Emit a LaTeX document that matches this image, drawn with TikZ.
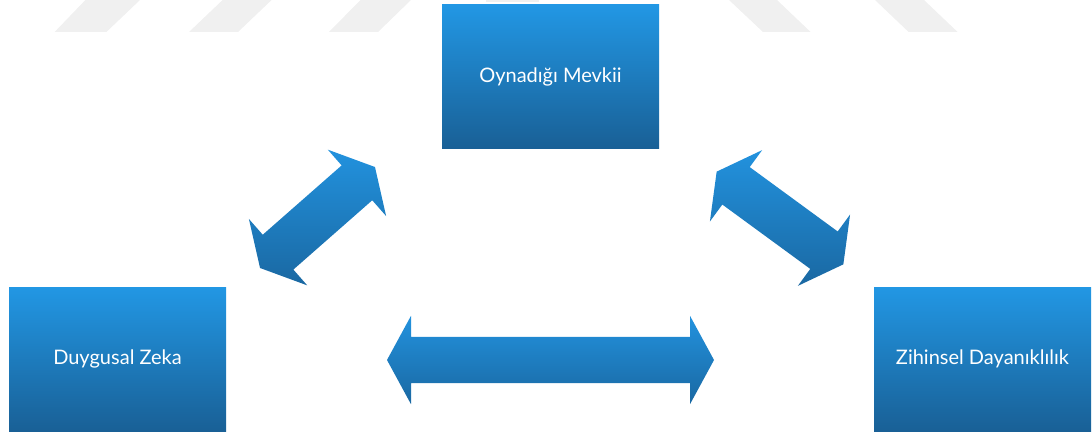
\documentclass[tikz,border=0pt]{standalone}
\usepackage{fontspec}
\setmainfont{Lato}
\usetikzlibrary{shapes.arrows}

\definecolor{boxtop}{RGB}{34,151,228}
\definecolor{boxbot}{RGB}{25,96,150}
\definecolor{arrtop}{RGB}{34,146,222}
\definecolor{arrbot}{RGB}{26,104,162}
\definecolor{wmgray}{RGB}{240,240,240}

\begin{document}
\begin{tikzpicture}[
			x=1pt, y=1pt,
			factor/.style={rectangle, minimum width=217pt, minimum height=143pt, inner sep=0pt,
				top color=boxtop, bottom color=boxbot, text=white, font=\fontsize{20}{24}\selectfont},
			link/.style={double arrow, minimum height=#1, minimum width=0pt,
				inner xsep=0pt, inner ysep=23pt, double arrow head extend=21pt,
				double arrow tip angle=123, top color=arrtop, bottom color=arrbot},
		]
		\useasboundingbox (0,0) rectangle (1092,432);

		% Watermark stripes
		\fill[wmgray] (54.6,400) -- (106.4,400) -- (140,432) -- (85.4,432) -- cycle;
		\fill[wmgray] (189,400) -- (238,400) -- (271.6,432) -- (222.6,432) -- cycle;
		\fill[wmgray] (329,400) -- (378,400) -- (411,432) -- (360.5,432) -- cycle;
		\fill[wmgray] (486,429.5) rectangle (539,432);
		\fill[wmgray] (763,400) -- (810.6,400) -- (777,432) -- (729,432) -- cycle;
		\fill[wmgray] (908.6,400) -- (957.6,400) -- (924,432) -- (875,432) -- cycle;

		% Factor boxes
		\node[factor] (mevki) at (550.5,355.5) {Oynadığı Mevkii};
		\node[factor, minimum height=144pt] (zeka) at (117.5,73) {Duygusal Zeka};
		\node[factor, minimum height=144pt] (dayan) at (982.5,73) {Zihinsel Dayanıklılık};

		% Block arrows between the boxes
		\node[link=153pt, rotate=41.3] (mevkizeka) at (317.5,214.5) {};
		\node[link=157pt, rotate=143.8] (mevkidayan) at (780,214) {};
		\node[link=327pt] (zekadayan) at (550.5,72) {};
	\end{tikzpicture}
\end{document}
